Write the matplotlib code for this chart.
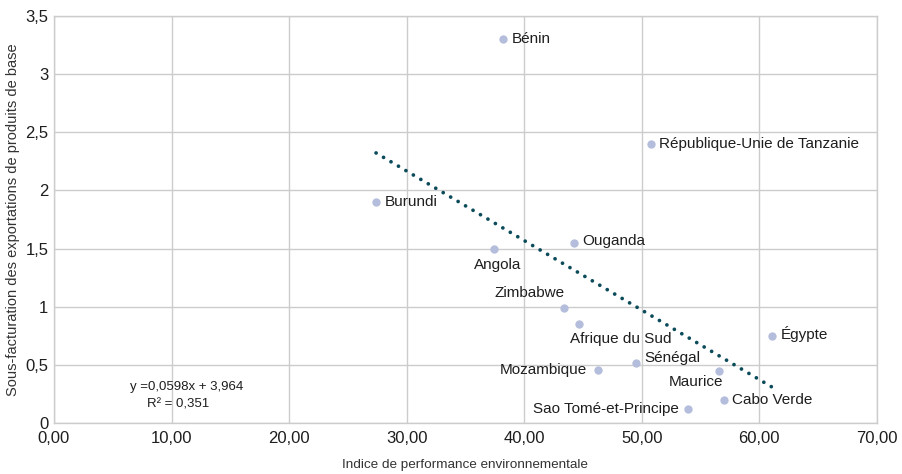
import numpy as np
import matplotlib.pyplot as plt
from matplotlib.ticker import FuncFormatter

# donnees
pays = ['Bénin', 'République-Unie de Tanzanie', 'Burundi', 'Angola', 'Ouganda',
        'Zimbabwe', 'Afrique du Sud', 'Égypte', 'Sénégal', 'Mozambique',
        'Maurice', 'Cabo Verde', 'Sao Tomé-et-Principe']
epi = [38.2, 50.8, 27.4, 37.4, 44.2, 43.4, 44.7, 61.1, 49.5, 46.3, 56.6, 57.0, 53.9]
sous_fact = [3.30, 2.40, 1.90, 1.50, 1.55, 0.99, 0.85, 0.75, 0.52, 0.46, 0.45, 0.20, 0.12]

# position des etiquettes (decalage en points, alignement)
offsets = {
    'Bénin': ((6, 0), 'left', 'center'),
    'République-Unie de Tanzanie': ((6, 0), 'left', 'center'),
    'Burundi': ((6, 0), 'left', 'center'),
    'Angola': ((3, -12), 'center', 'center'),
    'Ouganda': ((6, 1), 'left', 'center'),
    'Zimbabwe': ((-25, 11), 'center', 'center'),
    'Afrique du Sud': ((-7, -11), 'left', 'center'),
    'Égypte': ((6, 1), 'left', 'center'),
    'Sénégal': ((6, 3), 'left', 'center'),
    'Mozambique': ((-8, 0), 'right', 'center'),
    'Maurice': ((-17, -8), 'center', 'center'),
    'Cabo Verde': ((6, 0), 'left', 'center'),
    'Sao Tomé-et-Principe': ((-6, 0), 'right', 'center'),
}

plt.rcParams['font.family'] = ['Liberation Sans Narrow', 'Liberation Sans', 'DejaVu Sans']

fig = plt.figure(figsize=(9.03, 4.74), dpi=100)
ax = fig.add_axes([0.0598, 0.1076, 0.9112, 0.8586])

ax.scatter(epi, sous_fact, s=36, color='#b4bedc', zorder=3, linewidths=0)

# droite de tendance
a, b = np.polyfit(epi, sous_fact, 1)
xs = np.array([min(epi), max(epi)])
ax.plot(xs, a * xs + b, linestyle=(0, (0.01, 2.3)), linewidth=2.7, color='#0b4b5a',
        dash_capstyle='round', zorder=2)

for p, x, y in zip(pays, epi, sous_fact):
    off, ha, va = offsets[p]
    ax.annotate(p, (x, y), xytext=off, textcoords='offset points', ha=ha, va=va,
                fontsize=11, color='#1e1e1e')

ax.text(11.3, 0.31, 'y =0,0598x + 3,964', ha='center', va='center', fontsize=9.5, color='#1e1e1e')
ax.text(10.6, 0.155, 'R² = 0,351', ha='center', va='center', fontsize=9.5, color='#1e1e1e')

ax.set_xlim(0, 70)
ax.set_ylim(0, 3.5)
ax.set_xticks(np.arange(0, 71, 10))
ax.set_yticks(np.arange(0, 3.51, 0.5))
ax.xaxis.set_major_formatter(FuncFormatter(lambda v, _: f'{v:.2f}'.replace('.', ',')))
ax.yaxis.set_major_formatter(FuncFormatter(lambda v, _: f'{v:g}'.replace('.', ',')))
ax.tick_params(axis='x', length=0, labelsize=12, colors='#1e1e1e', pad=6)
ax.tick_params(axis='y', length=0, labelsize=12, colors='#1e1e1e', pad=4)
for lbl in ax.get_yticklabels():
    lbl.set_verticalalignment('center_baseline')
ax.grid(True, color='#cccccc', linewidth=1)
ax.set_axisbelow(True)
for s in ax.spines.values():
    s.set_color('#cccccc')
    s.set_linewidth(1)

ax.set_xlabel('Indice de performance environnementale', fontsize=9.7, color='#333333', labelpad=9)
ax.set_ylabel('Sous-facturation des exportations de produits de base', fontsize=10.5,
              color='#333333', labelpad=4)

fig.savefig('out.png', dpi=100)
